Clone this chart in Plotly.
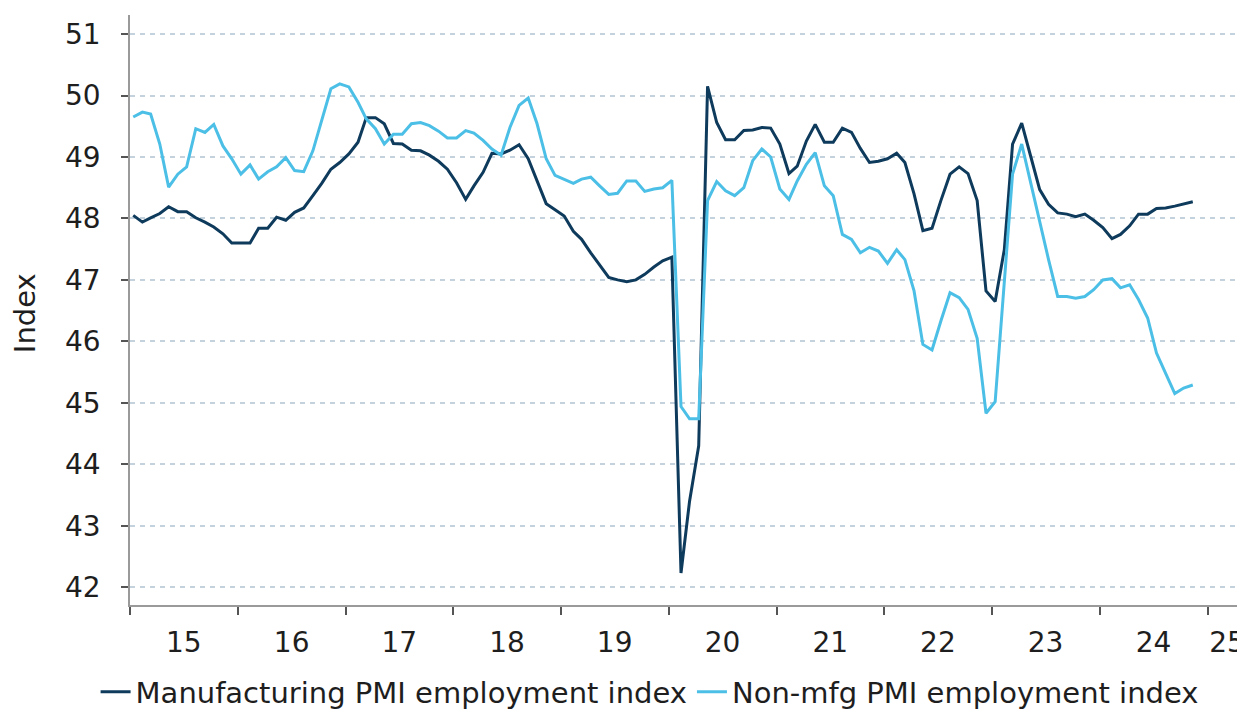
import pandas as pd
import plotly.graph_objects as go

# Monthly observations, Jan 2015 .. Nov 2024
start_month = "2015-01-01"
mfg_employment = [
    48.05, 47.94, 48.01, 48.08, 48.19, 48.11, 48.11, 48.01, 47.94, 47.86, 47.75, 47.60,
    47.60, 47.60, 47.84, 47.84, 48.02, 47.97, 48.10, 48.17, 48.37, 48.57, 48.80, 48.91,
    49.05, 49.24, 49.64, 49.64, 49.54, 49.22, 49.21, 49.11, 49.10, 49.03, 48.93, 48.80,
    48.58, 48.31, 48.53, 48.75, 49.06, 49.05, 49.11, 49.20, 48.97, 48.61, 48.24, 48.14,
    48.04, 47.79, 47.66, 47.44, 47.25, 47.04, 47.00, 46.97, 47.00, 47.09, 47.21, 47.31,
    47.37, 42.23, 43.40, 44.30, 50.15, 49.56, 49.28, 49.28, 49.43, 49.44, 49.48, 49.47,
    49.21, 48.73, 48.85, 49.26, 49.53, 49.24, 49.24, 49.47, 49.40, 49.14, 48.91, 48.93,
    48.97, 49.06, 48.91, 48.40, 47.80, 47.84, 48.29, 48.72, 48.84, 48.73, 48.29, 46.82,
    46.65, 47.49, 49.21, 49.55, 49.02, 48.47, 48.23, 48.09, 48.07, 48.03, 48.07, 47.97,
    47.85, 47.67, 47.74, 47.88, 48.07, 48.07, 48.16, 48.17, 48.20, 48.23, 48.27,
]
nonmfg_employment = [
    49.65, 49.73, 49.70, 49.21, 48.51, 48.72, 48.84, 49.46, 49.40, 49.53, 49.18, 48.97,
    48.72, 48.87, 48.64, 48.76, 48.84, 48.99, 48.78, 48.76, 49.10, 49.59, 50.11, 50.19,
    50.14, 49.89, 49.62, 49.46, 49.21, 49.37, 49.37, 49.54, 49.56, 49.51, 49.42, 49.31,
    49.31, 49.43, 49.39, 49.27, 49.13, 49.03, 49.48, 49.84, 49.96, 49.54, 48.97, 48.70,
    48.64, 48.57, 48.64, 48.67, 48.53, 48.39, 48.41, 48.61, 48.61, 48.44, 48.48, 48.50,
    48.62, 44.94, 44.74, 44.74, 48.29, 48.60, 48.45, 48.37, 48.50, 48.94, 49.13, 49.00,
    48.48, 48.31, 48.61, 48.88, 49.07, 48.53, 48.37, 47.74, 47.66, 47.44, 47.53, 47.47,
    47.27, 47.49, 47.33, 46.82, 45.95, 45.86, 46.33, 46.79, 46.71, 46.52, 46.05, 44.83,
    45.02, 46.90, 48.72, 49.21, 48.58, 47.93, 47.33, 46.73, 46.73, 46.70, 46.73, 46.84,
    47.00, 47.02, 46.87, 46.92, 46.68, 46.38, 45.81, 45.48, 45.15, 45.24, 45.29,
]
year_labels = ["15", "16", "17", "18", "19", "20", "21", "22", "23", "24", "25"]
series_names = ["Manufacturing PMI employment index", "Non-mfg PMI employment index"]

dates = pd.date_range(start_month, periods=len(mfg_employment), freq="MS") + pd.Timedelta(days=11)
label_pos = [f"20{y}-07-02" for y in year_labels[:-1]] + ["2025-03-08"]

DARK = "#0e3a5c"
LIGHT = "#4cbfe6"
FONT = "DejaVu Sans"
TXT = "#1e1e1e"

fig = go.Figure()
for vals, name, col in [(mfg_employment, series_names[0], DARK),
                        (nonmfg_employment, series_names[1], LIGHT)]:
    fig.add_trace(go.Scatter(x=dates, y=vals, mode="lines", name=name,
                             line=dict(color=col, width=3)))

fig.update_layout(
    width=1237, height=705,
    margin=dict(l=122, r=0, t=7, b=108, autoexpand=False),
    paper_bgcolor="white", plot_bgcolor="white",
    font=dict(family=FONT, size=28, color=TXT),
    showlegend=True,
    legend=dict(orientation="h", x=0.466, xanchor="center",
                yref="container", y=0.03, yanchor="middle",
                font=dict(size=29, color=TXT), itemwidth=30, tracegroupgap=0,
                bgcolor="rgba(0,0,0,0)"),
    xaxis=dict(
        type="date", range=["2015-01-01", "2025-05-08"], automargin=False,
        tickvals=label_pos, ticktext=year_labels,
        ticks="outside", ticklen=12, tickcolor="rgba(0,0,0,0)",
        showgrid=False, showline=True, linecolor="#9a9a9a", linewidth=1.5,
        tickfont=dict(size=28, color=TXT),
        minor=dict(ticks="outside", ticklen=8, tickwidth=1.5, tickcolor="#555555",
                   dtick="M12", tick0="2015-01-01", showgrid=False),
        zeroline=False,
    ),
    yaxis=dict(
        range=[41.71, 51.31], tickvals=list(range(42, 52)), automargin=False,
        ticks="outside", ticklen=7, tickwidth=2, tickcolor="#555555",
        ticklabelstandoff=15,
        showgrid=True, gridcolor="#c3d2dc", griddash="5px,5px", gridwidth=1.5,
        showline=True, linecolor="#9a9a9a", linewidth=1.5,
        tickfont=dict(size=28, color=TXT), zeroline=False,
    ),
    annotations=[dict(text="Index", xref="paper", yref="paper", x=-0.094, y=0.495,
                      textangle=-90, showarrow=False, xanchor="center", yanchor="middle",
                      font=dict(size=29, color=TXT))],
)

fig.write_html("out.html")
